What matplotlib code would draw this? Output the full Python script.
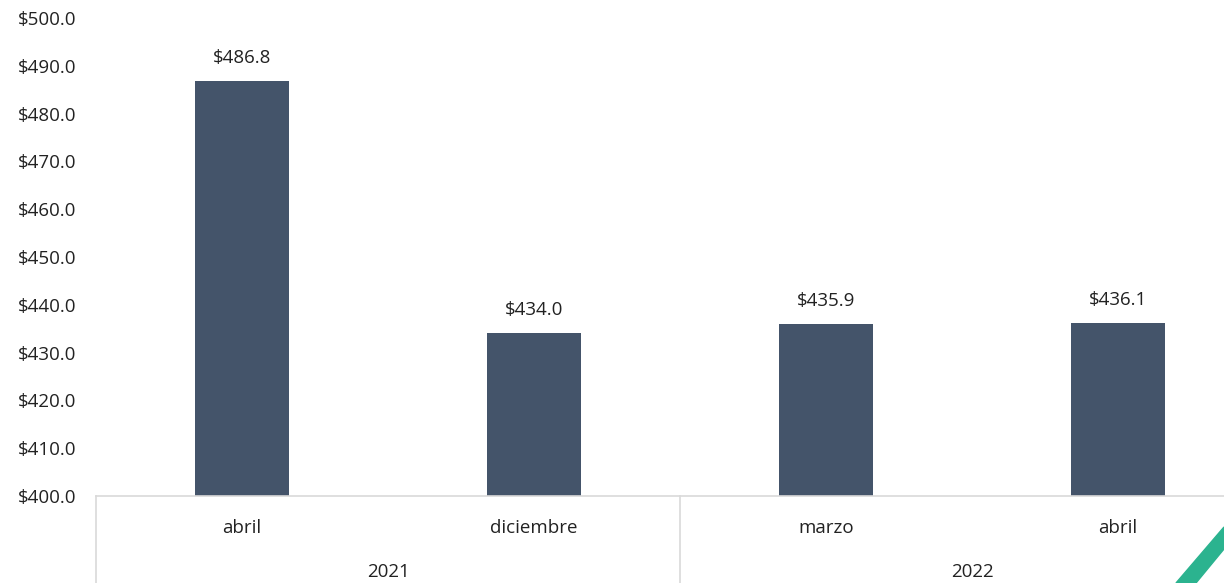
import matplotlib
matplotlib.use("Agg")
import matplotlib.pyplot as plt
from matplotlib.patches import Polygon

months = ["abril", "diciembre", "marzo", "abril"]
years = ["2021", "2022"]
values = [486.8, 434.0, 435.9, 436.1]

plt.rcParams["font.family"] = ["Open Sans", "DejaVu Sans"]

W, H = 1224, 583
fig = plt.figure(figsize=(W / 100, H / 100), dpi=100)
x0, x1 = 96, 1264
yb, yt = 496, 18
ax = fig.add_axes([x0 / W, (H - yb) / H, (x1 - x0) / W, (yb - yt) / H])

xs = range(len(values))
ax.bar(xs, [v - 400 for v in values], bottom=400, width=0.325, color="#44546A")
for x, v in zip(xs, values):
    ax.text(x, v + 3, f"${v:.1f}", ha="center", va="bottom", fontsize=13.5, color="#222222")

ax.set_xlim(-0.5, len(values) - 0.5)
ax.set_ylim(400, 500)
ax.set_yticks(range(400, 501, 10))
ax.set_yticklabels([f"${t:.1f}" for t in range(400, 501, 10)], fontsize=13.5, color="#222222")
ax.tick_params(axis="y", length=0, pad=14)
ax.tick_params(axis="x", length=0, labelbottom=False)
for s in ["top", "right", "left"]:
    ax.spines[s].set_visible(False)
ax.spines["bottom"].set_color("#D9D9D9")
ax.spines["bottom"].set_linewidth(1.2)

# grouped category axis
tr = ax.get_xaxis_transform()
for x, m in zip(xs, months):
    ax.text(x, -0.067, m, transform=tr, ha="center", va="center", fontsize=13.5, color="#222222")
for i, y in enumerate(years):
    ax.text(2 * i + 0.5, -0.159, y, transform=tr, ha="center", va="center",
            fontsize=13.5, color="#222222")
for xv in [-0.5, 1.5, 3.5]:
    ax.plot([xv, xv], [0, -0.2], transform=tr, color="#D9D9D9", lw=1.2, clip_on=False)

# decorative corner stripe
fig.patches.append(Polygon([(1176 / W, 0), (1196 / W, 0), (1224 / W, 34 / H), (1224 / W, 56 / H)],
                           closed=True, transform=fig.transFigure, color="#2BB38F", zorder=5))

fig.savefig("out.png", dpi=100)
